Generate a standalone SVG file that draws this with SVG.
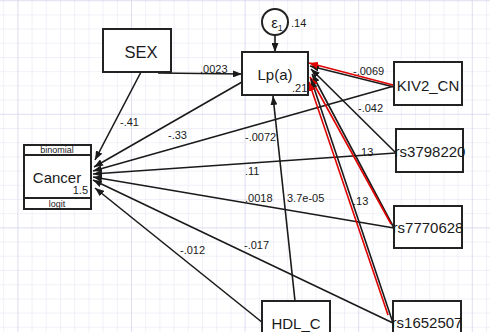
<svg xmlns="http://www.w3.org/2000/svg" width="490" height="332" viewBox="0 0 490 332">
<style>
text{font-family:"Liberation Sans",Arial,Helvetica,sans-serif;fill:#1a1a1a}
.box{fill:#fff;stroke:#222;stroke-width:2}
.nl{font-size:15px;text-anchor:middle}
.el{font-size:11px}
.cn line{stroke:#1a1a1a;stroke-width:1.6;marker-end:url(#ah)}
.cn line.red{stroke:#e00000;stroke-width:1.6;marker-end:url(#ahr)}
</style>
<defs>
<marker id="ah" markerUnits="userSpaceOnUse" markerWidth="9" markerHeight="7" refX="9" refY="3.5" orient="auto"><path d="M0,0 L9,3.5 L0,7 z" fill="#1a1a1a"/></marker>
<marker id="ahr" markerUnits="userSpaceOnUse" markerWidth="9" markerHeight="7" refX="9" refY="3.5" orient="auto"><path d="M0,0 L9,3.5 L0,7 z" fill="#e00000"/></marker>
<pattern id="minor" patternUnits="userSpaceOnUse" x="3.2" y="0.2" width="14.2" height="14.2"><path d="M0,0 H14.2 M0,0 V14.2" stroke="#e2e2f2" stroke-width="1" fill="none"/></pattern>
<pattern id="major" patternUnits="userSpaceOnUse" x="17.4" y="0.2" width="113.6" height="113.6"><path d="M0,0 H113.6 M0,0 V113.6" stroke="#cfcfec" stroke-width="1" fill="none"/></pattern>
</defs>
<rect width="490" height="332" fill="#fff"/>
<rect width="490" height="332" fill="url(#minor)"/>
<rect width="490" height="332" fill="url(#major)"/>

<g id="connectors" class="cn">
<!-- to Cancer -->
<line x1="141" y1="72" x2="95" y2="160"/>
<line x1="242" y1="82" x2="94" y2="167"/>
<line x1="394" y1="86" x2="93" y2="171"/>
<line x1="396" y1="153" x2="93" y2="174"/>
<line x1="394" y1="228" x2="93" y2="177"/>
<line x1="393" y1="323" x2="93" y2="180"/>
<line x1="263" y1="323" x2="95" y2="188"/>
<!-- to Lp(a) -->
<line x1="275" y1="35" x2="275" y2="52"/>
<line x1="158" y1="73" x2="242" y2="74"/>
<line x1="295" y1="301" x2="273" y2="96"/>
<line x1="394" y1="87" x2="310" y2="66"/>
<line class="red" x1="393" y1="85" x2="309" y2="63"/>
<line x1="396" y1="153" x2="311" y2="69"/>
<line x1="394" y1="228" x2="312" y2="74"/>
<line class="red" x1="391" y1="224" x2="310" y2="77"/>
<line x1="393" y1="323" x2="311" y2="79"/>
<line class="red" x1="388" y1="315" x2="309" y2="82"/>
</g>

<g id="labels">
<text class="el" x="200" y="73">.0023</text>
<text class="el" x="120" y="126">-.41</text>
<text class="el" x="168" y="139">-.33</text>
<text class="el" x="353" y="75">-.0069</text>
<text class="el" x="358" y="112">-.042</text>
<text class="el" x="245" y="141">-.0072</text>
<text class="el" x="358" y="156">.13</text>
<text class="el" x="245" y="175">.11</text>
<text class="el" x="245" y="202">.0018</text>
<text class="el" x="287" y="202">3.7e-05</text>
<text class="el" x="353" y="205">.13</text>
<text class="el" x="244" y="249">-.017</text>
<text class="el" x="180" y="254">-.012</text>
</g>

<g id="eps">
<circle cx="275" cy="22" r="13" fill="#fff" stroke="#222" stroke-width="2"/>
<text x="277" y="28" font-size="15" text-anchor="middle">ε<tspan font-size="9" dy="3">1</tspan></text>
<text class="el" x="291" y="27">.14</text>
</g>

<g id="SEX">
<rect class="box" x="103" y="29" width="68" height="43"/>
<text class="nl" x="141" y="58" style="font-size:16.5px">SEX</text>
</g>

<g id="Lpa">
<rect class="box" x="242" y="52" width="66" height="43"/>
<text class="nl" x="275" y="80">Lp(a)</text>
<text class="el" x="292" y="92">.21</text>
</g>

<g id="KIV2_CN">
<rect class="box" x="394" y="62" width="68" height="43"/>
<text class="nl" x="428" y="91">KIV2_CN</text>
</g>

<g id="rs3798220">
<rect class="box" x="396" y="129" width="67" height="43"/>
<text class="nl" x="430" y="157">rs3798220</text>
</g>

<g id="rs7770628">
<rect class="box" x="394" y="206" width="68" height="42"/>
<text class="nl" x="428" y="233">rs7770628</text>
</g>

<g id="rs1652507">
<rect class="box" x="393" y="301" width="68" height="45"/>
<text class="nl" x="427" y="328">rs1652507</text>
</g>

<g id="HDL_C">
<rect class="box" x="262" y="301" width="68" height="45"/>
<text class="nl" x="296" y="329">HDL_C</text>
</g>

<g id="Cancer">
<rect class="box" x="24" y="145" width="67" height="64"/>
<line x1="24" y1="155" x2="91" y2="155" stroke="#222" stroke-width="2"/>
<line x1="24" y1="198" x2="91" y2="198" stroke="#222" stroke-width="2"/>
<text x="57" y="153" font-size="9" text-anchor="middle">binomial</text>
<text class="nl" x="57" y="183">Cancer</text>
<text class="el" x="88" y="194" text-anchor="end">1.5</text>
<text x="57" y="207" font-size="9" text-anchor="middle">logit</text>
</g>
</svg>
